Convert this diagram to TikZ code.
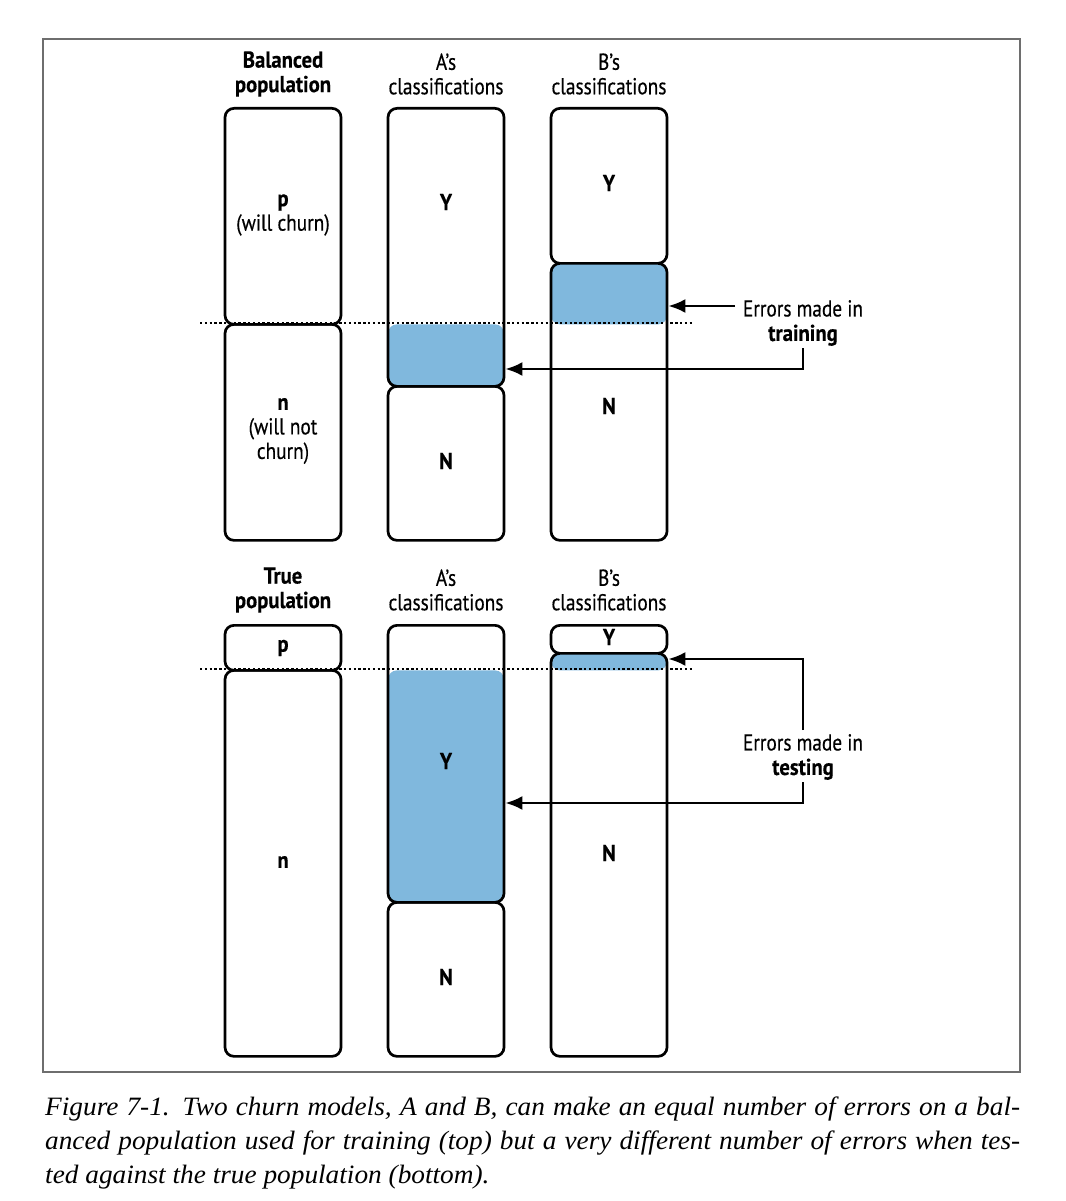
\documentclass[tikz,border=0pt]{standalone}
\usepackage{fontspec}
\setmainfont{Liberation Serif}
\newfontfamily\condf[FakeStretch=0.84, FakeBold=0.4, BoldFeatures={FakeStretch=0.9, FakeBold=0.3}]{PT Sans}
\newfontfamily\capf[FakeStretch=1.03]{Liberation Serif}
\usetikzlibrary{arrows.meta}
\definecolor{errblue}{RGB}{128,184,221}
\definecolor{framegray}{RGB}{110,110,110}
\tikzset{
  cell/.style={draw, line width=2.7pt, rounded corners=9pt, minimum width=116pt,
    inner sep=0pt, anchor=north},
  botfill/.style={path picture={\fill[errblue] (path picture bounding box.south west)
    rectangle ([yshift=#1]path picture bounding box.south east);}},
  topfill/.style={path picture={\fill[errblue] (path picture bounding box.north west)
    rectangle ([yshift=-#1]path picture bounding box.north east);}},
  txt/.style={font=\condf\fontsize{23}{24.5}\selectfont, align=center, inner sep=0pt},
  btxt/.style={font=\condf\bfseries\fontsize{23}{24.5}\selectfont, align=center, inner sep=0pt},
  dotline/.style={line width=2.5pt, dash pattern=on 2.4pt off 2.4pt},
  arr/.style={line width=2.6pt, -{Latex[length=17pt,width=14pt]}},
  capline/.style={font=\capf\itshape\fontsize{26.5}{34}\selectfont, anchor=base west, inner sep=0pt}
}
\begin{document}
\begin{tikzpicture}[x=1pt,y=-1pt]
\useasboundingbox (0,0) rectangle (1065,1201);
\fill[white] (0,0) rectangle (1065,1201);
\draw[framegray, line width=1.4pt] (43,39) rectangle (1020,1072);

% ---------- top: balanced population ----------
\node[btxt] (h1) at (283,74) {Balanced\\population};
\node[txt] (h2) at (446,74) {A’s\\classifications};
\node[txt] (h3) at (609,74) {B’s\\classifications};

\node[cell, minimum height=216pt] (bp1) at (283,107) {};
\node[cell, minimum height=216pt] (bn1) at (283,323) {};
\node[cell, minimum height=278pt, botfill=62pt] (aY1) at (446,107) {};
\node[cell, minimum height=154pt] (aN1) at (446,385) {};
\node[cell, minimum height=155pt] (bY1) at (609,107) {};
\node[cell, minimum height=277pt, topfill=61pt] (bN1) at (609,262) {};

\node[txt] (lp1) at (283,215) {\textbf{p}\\(will churn)};
\node[txt] (ln1) at (283,431) {\textbf{n}\\(will not\\churn)};
\node[btxt] (laY1) at (446,202) {Y};
\node[btxt] (laN1) at (446,461) {N};
\node[btxt] (lbY1) at (609,183) {Y};
\node[btxt] (lbN1) at (609,406) {N};

\coordinate (d1l) at (200,323);
\coordinate (d1r) at (692,323);
\draw[dotline] (d1l) -- (d1r);

\node[txt] (tr) at (803,323) {Errors made in\\\textbf{training}};
\coordinate (t1a) at (735,306);
\coordinate (t1b) at (803,348);
\coordinate (y2) at (0,369);
\draw[arr] (t1a) -- (bN1.east |- t1a);
\draw[arr] (t1b) |- (aY1.east |- y2);

% ---------- bottom: true population ----------
\node[btxt] (h4) at (283,590) {True\\population};
\node[txt] (h5) at (446,590) {A’s\\classifications};
\node[txt] (h6) at (609,590) {B’s\\classifications};

\node[cell, minimum height=45pt] (bp2) at (283,624) {};
\node[cell, minimum height=386pt] (bn2) at (283,669) {};
\node[cell, minimum height=277pt, botfill=232pt] (aY2) at (446,624) {};
\node[cell, minimum height=154pt] (aN2) at (446,901) {};
\node[cell, minimum height=28pt] (bY2) at (609,624) {};
\node[cell, minimum height=403pt, topfill=17pt] (bN2) at (609,652) {};

\node[btxt] (lp2) at (283,648) {p};
\node[btxt] (ln2) at (283,862) {n};
\node[btxt] (laY2) at (446,761) {Y};
\node[btxt] (laN2) at (446,977) {N};
\node[btxt] (lbY2) at (609,637) {Y};
\node[btxt] (lbN2) at (609,853) {N};

\coordinate (d2l) at (200,669);
\coordinate (d2r) at (692,669);
\draw[dotline] (d2l) -- (d2r);

\node[txt] (te) at (803,757) {Errors made in\\\textbf{testing}};
\coordinate (t3a) at (803,730);
\coordinate (y3) at (0,659);
\coordinate (t4a) at (803,782);
\coordinate (y4) at (0,803);
\draw[arr] (t3a) |- (bN2.east |- y3);
\draw[arr] (t4a) |- (aY2.east |- y4);

% ---------- caption ----------
\node[capline] (c1) at (45,1115) {\makebox[975pt][s]{Figure 7-1. Two churn models, A and B, can make an equal number of errors on a bal-}};
\node[capline] (c2) at (45,1149) {\makebox[975pt][s]{anced population used for training (top) but a very different number of errors when tes-}};
\node[capline] (c3) at (45,1183) {ted against the true population (bottom).};
\end{tikzpicture}
\end{document}
